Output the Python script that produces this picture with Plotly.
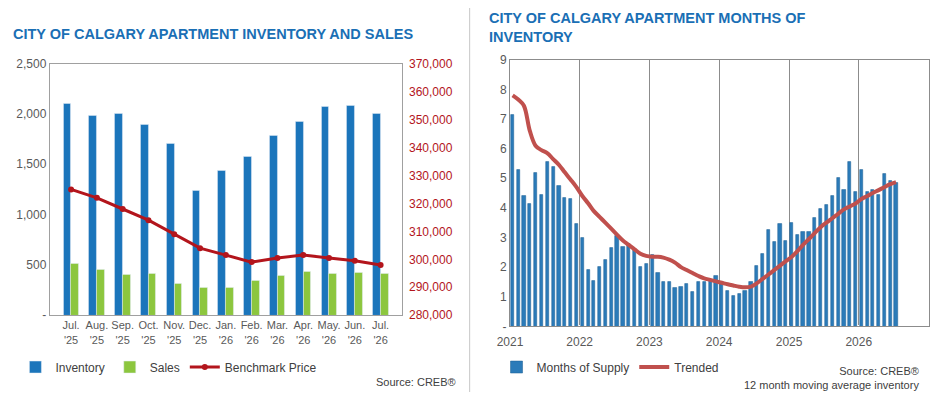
import plotly.graph_objects as go
import pandas as pd

# left panel data
months = ["Jul.<br>'25", "Aug.<br>'25", "Sep.<br>'25", "Oct.<br>'25", "Nov.<br>'25", "Dec.<br>'25", "Jan.<br>'26",
          "Feb.<br>'26", "Mar.<br>'26", "Apr.<br>'26", "May.<br>'26", "Jun.<br>'26", "Jul.<br>'26"]
inventory = [2100, 1980, 2000, 1890, 1700, 1240, 1440, 1580, 1780, 1920, 2070, 2080, 2000]
sales = [510, 450, 400, 410, 310, 270, 270, 340, 390, 430, 410, 420, 410]
benchmark = [325000, 322000, 318000, 314000, 309000, 304000, 301500, 299000, 300500, 301500, 300500, 299500, 298000]

# right panel data (Jan 2021 - Jul 2026)
supply = [7.15, 5.3, 4.4, 4.15, 5.2, 4.45, 5.55, 5.4, 4.75, 4.35, 4.3, 3.45,
          3.0, 1.9, 1.55, 2.0, 2.25, 2.65, 3.05, 2.7, 2.8, 2.6, 2.0, 2.1,
          2.4, 1.8, 1.5, 1.5, 1.3, 1.35, 1.45, 1.15, 1.5, 1.5, 1.55, 1.7,
          1.45, 1.2, 1.02, 1.1, 1.2, 1.5, 2.05, 2.45, 3.25, 2.85, 3.45, 2.9,
          3.5, 3.1, 3.18, 3.18, 3.65, 3.98, 4.12, 4.42, 5.02, 4.6, 5.55, 4.55,
          5.3, 4.55, 4.6, 4.45, 5.15, 4.9, 4.85]
trended = [7.8, 7.65, 7.45, 6.6, 6.1, 5.95, 5.85, 5.65, 5.45, 5.2, 4.95, 4.7,
           4.4, 4.15, 3.9, 3.7, 3.5, 3.3, 3.1, 2.9, 2.75, 2.6, 2.45, 2.38,
           2.35, 2.35, 2.32, 2.25, 2.15, 2.0, 1.9, 1.8, 1.7, 1.62, 1.57, 1.52,
           1.47, 1.42, 1.38, 1.34, 1.32, 1.34, 1.45, 1.6, 1.75, 1.9, 2.05, 2.2,
           2.35, 2.55, 2.75, 2.95, 3.15, 3.35, 3.5, 3.65, 3.8, 3.95, 4.05, 4.15,
           4.3, 4.4, 4.5, 4.6, 4.7, 4.8, 4.87]
dates = pd.date_range("2021-01-01", periods=len(supply), freq="MS") + pd.Timedelta(days=14)

blue_title = "#1a6fb5"
fig = go.Figure()

fig.add_trace(go.Bar(x=months, y=inventory, name="Inventory", marker_color="#1b75bb", width=0.3,
                     offset=-0.3, legend="legend"))
fig.add_trace(go.Bar(x=months, y=sales, name="Sales", marker_color="#8cc63e", width=0.3,
                     offset=0.0, legend="legend"))
fig.add_trace(go.Scatter(x=months, y=benchmark, name="Benchmark Price", yaxis="y2", mode="lines+markers",
                         line=dict(color="#b3151c", width=3), marker=dict(size=6), legend="legend"))

fig.add_trace(go.Bar(x=dates, y=supply, name="Months of Supply", xaxis="x3", yaxis="y3",
                     marker=dict(color="#2b7bb9", line=dict(color="#1c5f93", width=0.5)),
                     width=1000 * 3600 * 24 * 17, legend="legend2"))
fig.add_trace(go.Scatter(x=dates, y=trended, name="Trended", xaxis="x3", yaxis="y3", mode="lines",
                         line=dict(color="#c0504d", width=4, shape="spline"), legend="legend2"))

tickfont = dict(family="Arial, Liberation Sans", size=12, color="#595959")
fig.update_layout(
    width=927, height=384, margin=dict(l=0, r=0, t=0, b=0, autoexpand=False),
    paper_bgcolor="white", plot_bgcolor="white", showlegend=True, bargap=0,
    font=dict(family="Arial, Liberation Sans", color="#404040"),
    xaxis=dict(domain=[0.045, 0.425], tickfont=dict(family="Arial, Liberation Sans", size=11, color="#595959"),
               tickangle=0, showline=True, linecolor="#a0a0a0", mirror=True, ticks="", anchor="y",
               automargin=False),
    yaxis=dict(domain=[0.2, 0.855], range=[0, 2500], tickfont=tickfont, automargin=False,
               showgrid=False, showline=True, linecolor="#a0a0a0", mirror=True,
               tickvals=[0, 500, 1000, 1500, 2000, 2500], ticktext=["-", "500", "1,000", "1,500", "2,000", "2,500"]),
    yaxis2=dict(overlaying="y", side="right", range=[280000, 370000], dtick=10000, tickformat=",",
                automargin=False, ticklabelstandoff=6,
                tickfont=dict(family="Arial, Liberation Sans", size=12, color="#b3151c"), showgrid=False),
    xaxis3=dict(domain=[0.5415, 0.993], anchor="y3", type="date", range=["2021-01-01", "2027-01-01"],
                dtick="M12", tickformat="%Y", tickfont=tickfont, showgrid=True, gridcolor="#8c8c8c",
                showline=True, linecolor="#8c8c8c", mirror=True, ticklabelstandoff=4, automargin=False),
    yaxis3=dict(domain=[0.171, 0.865], anchor="x3", range=[0, 9], tickfont=tickfont, showgrid=False,
                showline=True, linecolor="#8c8c8c", mirror=True, automargin=False,
                tickvals=list(range(10)), ticktext=["-"] + [str(i) for i in range(1, 10)]),
    legend=dict(orientation="h", x=0.008, y=0.065, xanchor="left", yanchor="middle",
                font=dict(size=12, color="#404040"), itemwidth=30, tracegroupgap=0),
    legend2=dict(orientation="h", x=0.527, y=0.065, xanchor="left", yanchor="middle",
                 font=dict(size=12, color="#404040"), itemwidth=30),
)

fig.add_annotation(text="<b>CITY OF CALGARY APARTMENT INVENTORY AND SALES</b>", xref="paper", yref="paper",
                   x=0.003, y=0.932, xanchor="left", yanchor="middle", showarrow=False,
                   font=dict(size=14.5, color=blue_title))
fig.add_annotation(text="<b>CITY OF CALGARY APARTMENT MONTHS OF<br>INVENTORY</b>", xref="paper", yref="paper",
                   x=0.517, y=0.95, xanchor="left", yanchor="middle", showarrow=False, align="left",
                   font=dict(size=14.5, color=blue_title))
fig.add_annotation(text="Source: CREB®", xref="paper", yref="paper", x=0.485, y=0.026, xanchor="right",
                   yanchor="middle", showarrow=False, font=dict(size=11, color="#404040"))
fig.add_annotation(text="Source: CREB®<br>12 month moving average inventory", xref="paper", yref="paper",
                   x=0.985, y=0.036, xanchor="right", yanchor="middle", align="right", showarrow=False,
                   font=dict(size=11, color="#404040"))
fig.add_shape(type="line", xref="paper", yref="paper", x0=0.498, x1=0.498, y0=0, y1=1,
              line=dict(color="#c8c8c8", width=1))

fig.write_html("out.html")
